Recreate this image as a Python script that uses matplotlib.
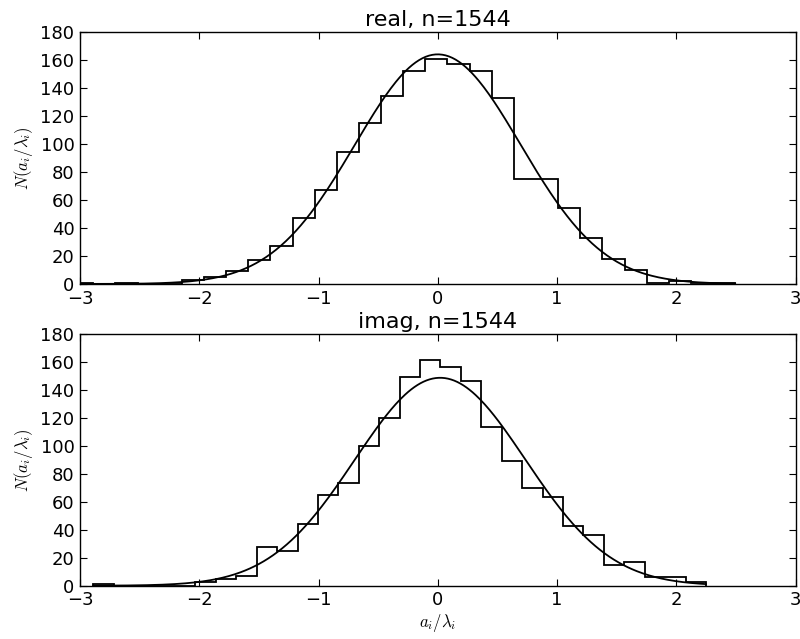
import numpy as np
import matplotlib

matplotlib.use("Agg")
import matplotlib.pyplot as plt

# histogram counts (30 bins each)
real_lo, real_hi = -3.074, 2.494
real_counts = [1, 0, 1, 0, 0, 3, 5, 9, 17, 27,
               47, 67, 94, 115, 134, 152, 161, 157, 152, 133,
               75, 75, 54, 33, 18, 10, 1, 2, 1, 1]
imag_lo, imag_hi = -2.888, 2.249
imag_counts = [1, 0, 0, 0, 0, 3, 5, 7, 28, 25,
               44, 65, 73, 100, 120, 149, 161, 156, 146, 113,
               89, 70, 63, 43, 36, 15, 17, 6, 6, 3]

# fitted gaussian (mean, sigma, peak height)
real_fit = (0.0, 0.695, 164.0)
imag_fit = (0.02, 0.715, 148.5)

titles = ["real, n=1544", "imag, n=1544"]
yticks = list(range(0, 181, 20))
xticks = [-3, -2, -1, 0, 1, 2, 3]

plt.rcParams["mathtext.fontset"] = "cm"
plt.rcParams["font.size"] = 13

fig = plt.figure(figsize=(8.0, 6.39), dpi=100, facecolor="white")
ax1 = fig.add_axes([0.1, 0.5556, 0.8944, 0.3944])
ax2 = fig.add_axes([0.1, 0.0834, 0.8944, 0.3944])

for ax, (lo, hi), counts, (mu, sig, peak), title in zip(
        [ax1, ax2],
        [(real_lo, real_hi), (imag_lo, imag_hi)],
        [real_counts, imag_counts],
        [real_fit, imag_fit],
        titles):
    edges = np.linspace(lo, hi, len(counts) + 1)
    ax.hist(edges[:-1], bins=edges, weights=counts, histtype="step",
            color="black", linewidth=1.3)
    xs = np.linspace(lo, hi, 400)
    ax.plot(xs, peak * np.exp(-(xs - mu) ** 2 / (2 * sig ** 2)),
            color="black", linewidth=1.3)
    ax.set_xlim(-3, 3)
    ax.set_ylim(0, 180)
    ax.set_xticks(xticks)
    ax.set_yticks(yticks)
    ax.tick_params(direction="in", top=True, right=True, length=5,
                   width=0.8, labelsize=13, pad=4)
    ax.set_title(title, fontsize=16, pad=4)
    ax.set_ylabel(r"$N(a_i/\lambda_i)$", fontsize=12)
    for s in ax.spines.values():
        s.set_linewidth(1.0)

ax2.set_xlabel(r"$a_i/\lambda_i$", fontsize=12, labelpad=2)

fig.savefig("out.png", dpi=100, facecolor="white")
